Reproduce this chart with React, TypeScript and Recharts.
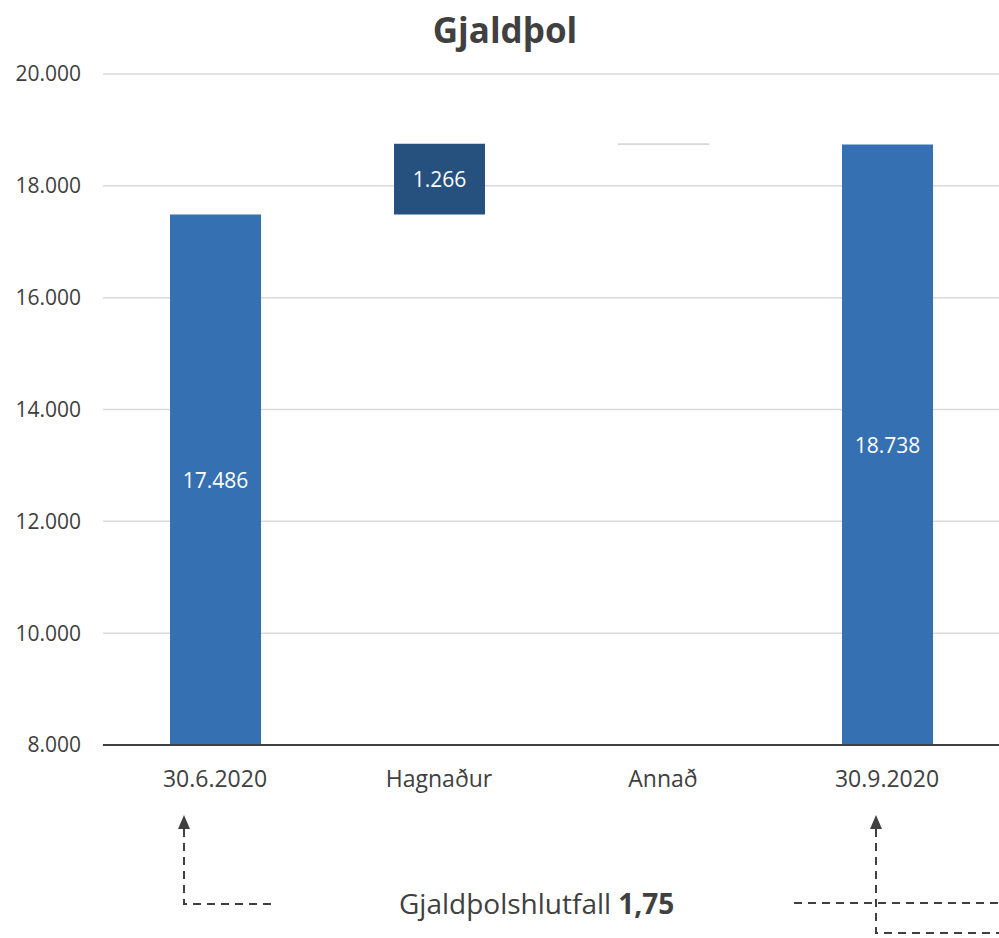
import { BarChart, Bar, XAxis, YAxis, CartesianGrid, LabelList, Cell } from 'recharts';

// waterfall: totals start at the axis floor, changes float on the running total
const categories = ['30.6.2020', 'Hagnaður', 'Annað', '30.9.2020'];
const amounts = [17486, 1266, -14, 18738];
const isTotal = [true, false, false, true];
const yTicks = [8000, 10000, 12000, 14000, 16000, 18000, 20000];

const axisMin = 8000;
const axisMax = 20000;

const fmt = (n: number) => String(Math.abs(n)).replace(/\B(?=(\d{3})+(?!\d))/g, '.');

let running = 0;
const data = categories.map((name, i) => {
    let range: number[];
    if (isTotal[i]) {
        range = [axisMin, amounts[i]];
        running = amounts[i];
    } else {
        const next = running + amounts[i];
        range = [Math.min(running, next), Math.max(running, next)];
        running = next;
    }
    return { name, range, amount: amounts[i], total: isTotal[i] };
});

const barColor = (d: any) => {
    if (d.total) return '#3570B2';
    if (d.amount < 0) return '#D9D9D9';
    return '#26517F';
};

const font = '"Open Sans", sans-serif';

const BarLabel = (props: any) => {
    const { x, y, width, height, index } = props;
    const d = data[index];
    if (Math.abs(d.amount) < 100) return null;
    return (
        <text x={x + width / 2} y={y + height / 2} textAnchor="middle" dominantBaseline="central"
            fill="#ffffff" fontSize={21} fontFamily={font}>
            {fmt(d.amount)}
        </text>
    );
};

export default function App() {
    return (
        <div style={{ position: 'absolute', left: 0, top: 0, width: 999, height: 938, background: '#fff' }}>
            <BarChart width={999} height={938} data={data}
                margin={{ top: 74, right: 0, bottom: 153, left: 0 }} barSize={91}>
                <CartesianGrid vertical={false} stroke="#D9D9D9" strokeWidth={1.5} />
                <XAxis dataKey="name" height={40} tickLine={false} tickSize={0} tickMargin={26}
                    axisLine={{ stroke: '#404040', strokeWidth: 2 }}
                    tick={{ fill: '#404040', fontSize: 23, fontFamily: font }} />
                <YAxis domain={[axisMin, axisMax]} ticks={yTicks} allowDataOverflow width={103}
                    axisLine={false} tickLine={false} tickSize={0} tickMargin={22}
                    tickFormatter={(v: number) => fmt(v)}
                    tick={{ fill: '#404040', fontSize: 21, fontFamily: font }} />
                <Bar dataKey="range" isAnimationActive={false}>
                    {data.map((d) => (
                        <Cell key={d.name} fill={barColor(d)}
                            stroke={d.amount < 0 ? '#D9D9D9' : 'none'} strokeWidth={1} />
                    ))}
                    <LabelList dataKey="amount" content={BarLabel} />
                </Bar>
            </BarChart>
            <svg width={999} height={938} style={{ position: 'absolute', left: 0, top: 0, pointerEvents: 'none' }}>
                <text x={505} y={43} textAnchor="middle" fontSize={35} fontWeight="bold" fill="#404040" fontFamily={font}>
                    Gjaldþol
                </text>
                <g stroke="#404040" strokeWidth={2} strokeDasharray="8 6" fill="none">
                    <path d="M184 829 L184 904 L277 904" />
                    <path d="M876 829 L876 933 L999 933" />
                    <path d="M794 903 L999 903" />
                </g>
                <polygon points="184,815 178,829 190,829" fill="#404040" />
                <polygon points="876,815 870,829 882,829" fill="#404040" />
                <text x={399} y={914} fontSize={28} fill="#404040" fontFamily={font}>
                    Gjaldþolshlutfall <tspan fontWeight="bold">1,75</tspan>
                </text>
            </svg>
        </div>
    );
}
